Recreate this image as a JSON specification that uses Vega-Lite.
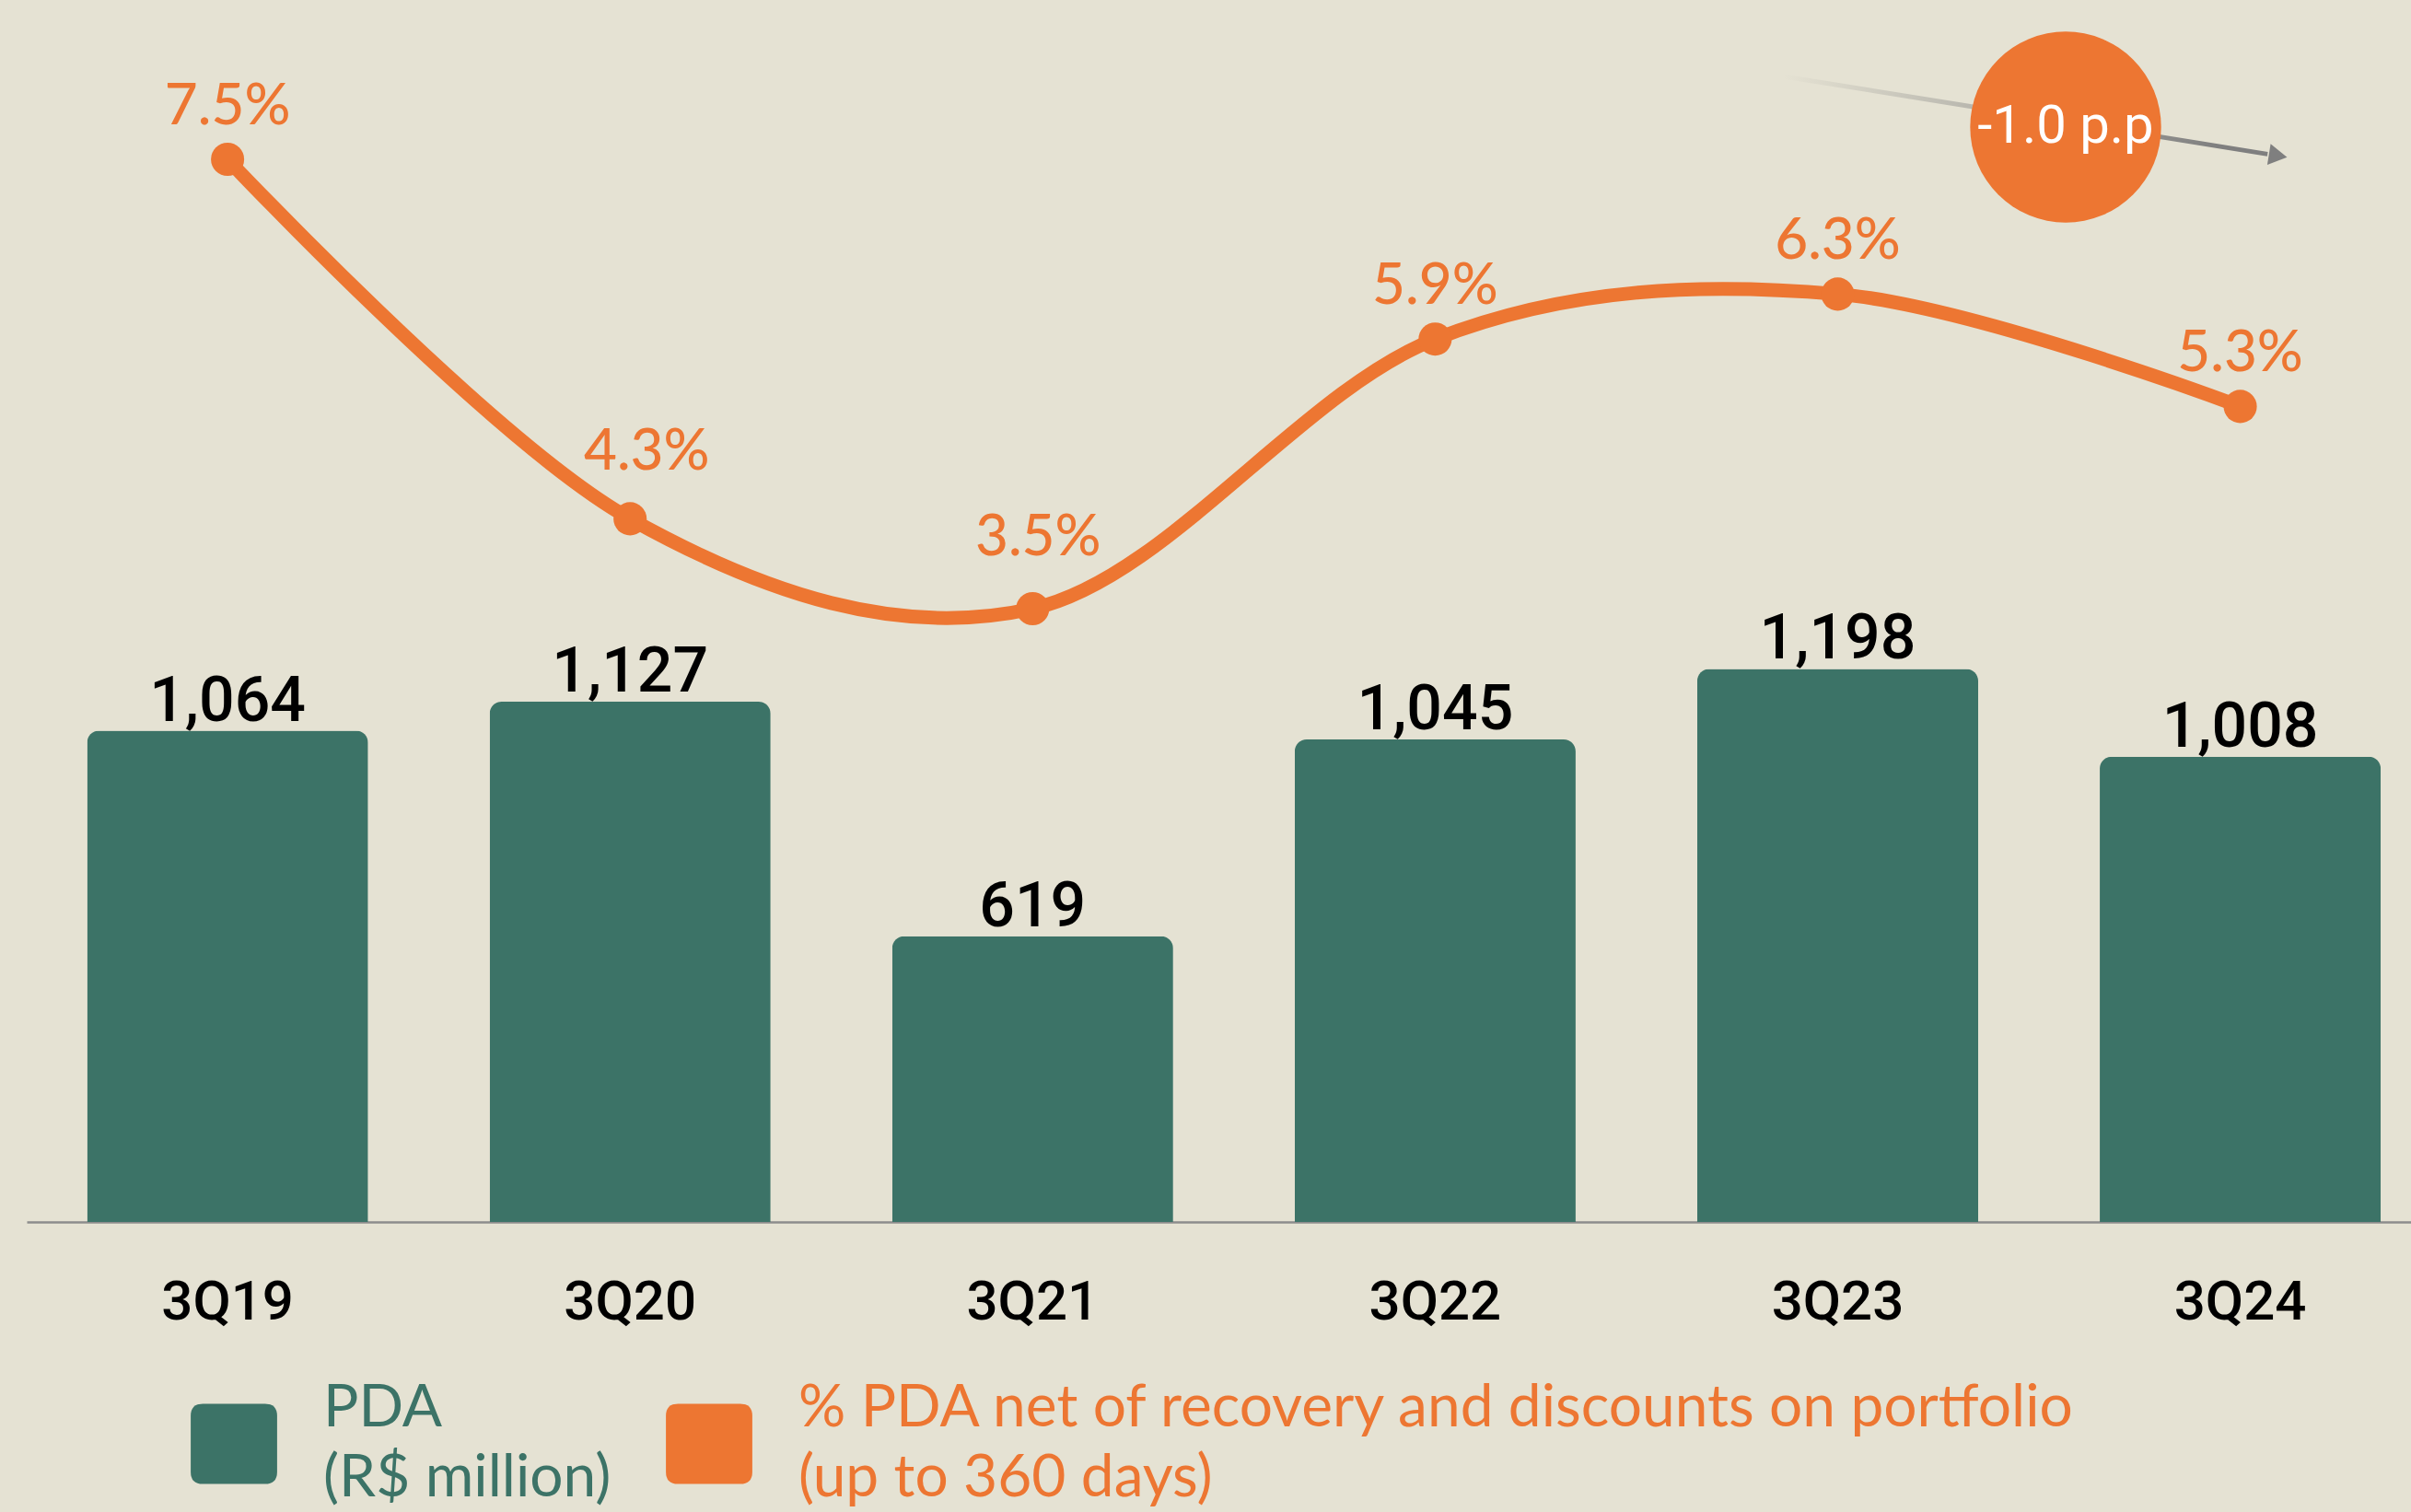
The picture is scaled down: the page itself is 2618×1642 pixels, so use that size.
{
  "$schema": "https://vega.github.io/schema/vega-lite/v6.json",
  "autosize": {"type": "none"},
  "width": 2589,
  "height": 1327,
  "padding": {"left": 29, "top": 0, "right": 0, "bottom": 315},
  "background": "#E5E2D3",
  "config": {"view": {"stroke": null}, "font": "Lato"},
  "datasets": {
    "pda": [
      {"quarter": "3Q19", "pda": 1064, "pct": 0.075, "series": "PDA (R$ million)"},
      {"quarter": "3Q20", "pda": 1127, "pct": 0.043, "series": "PDA (R$ million)"},
      {"quarter": "3Q21", "pda": 619, "pct": 0.035, "series": "PDA (R$ million)"},
      {"quarter": "3Q22", "pda": 1045, "pct": 0.059, "series": "PDA (R$ million)"},
      {"quarter": "3Q23", "pda": 1198, "pct": 0.063, "series": "PDA (R$ million)"},
      {"quarter": "3Q24", "pda": 1008, "pct": 0.053, "series": "PDA (R$ million)"}
    ],
    "ann": [{"x": 4.5665, "y": 0.07787, "label": "-1.0 p.p"}],
    "arrow": [{"x": 3.866, "y": 0.08238, "x2": 5.068, "y2": 0.07546}],
    "head": [{"x": 5.094, "y": 0.07531}]
  },
  "layer": [
    {
      "data": {"name": "pda"},
      "encoding": {
        "x": {
          "field": "quarter",
          "type": "nominal",
          "sort": null,
          "scale": {"paddingInner": 0.302, "paddingOuter": 0.1126, "align": 0.666},
          "axis": {
            "title": null,
            "labelAngle": 0,
            "labelFont": "Roboto",
            "labelFontSize": 60,
            "labelFontWeight": 500,
            "labelColor": "#000000",
            "labelBaseline": "top",
            "labelPadding": 58,
            "ticks": false,
            "tickSize": 0,
            "domainColor": "#8C8C8C",
            "domainWidth": 2.5,
            "grid": false
          }
        }
      },
      "layer": [
        {
          "layer": [
            {
              "mark": {"type": "bar", "cornerRadiusTopLeft": 13, "cornerRadiusTopRight": 13},
              "encoding": {
                "y": {"field": "pda", "type": "quantitative", "scale": {"domain": [0, 2647], "nice": false}, "axis": null},
                "color": {
                  "field": "series",
                  "type": "nominal",
                  "scale": {
                    "domain": ["PDA (R$ million)", "% PDA net of recovery and discounts on portfolio (up to 360 days)"],
                    "range": ["#3C7367", "#ED7632"]
                  },
                  "legend": {
                    "title": null,
                    "orient": "none",
                    "legendX": 178,
                    "legendY": 1521,
                    "direction": "horizontal",
                    "symbolType": "M-0.72,-0.93 L0.72,-0.93 Q1,-0.93 1,-0.65 L1,0.65 Q1,0.93 0.72,0.93 L-0.72,0.93 Q-1,0.93 -1,0.65 L-1,-0.65 Q-1,-0.93 -0.72,-0.93 Z",
                    "symbolSize": 8800,
                    "symbolStrokeWidth": 0,
                    "symbolOpacity": 1,
                    "labelFont": "Lato",
                    "labelFontSize": 64,
                    "labelOffset": 50,
                    "columnPadding": 59,
                    "labelLimit": 3000,
                    "labelBaseline": "middle",
                    "labelExpr": "[slice(datum.label, 0, indexof(datum.label, ' (')), slice(datum.label, indexof(datum.label, ' (') + 1)]",
                    "encode": {
                      "labels": {
                        "update": {
                          "fill": {"signal": "datum.value == 'PDA (R$ million)' ? '#3C7367' : '#ED7632'"},
                          "lineHeight": {"value": 76},
                          "dy": {"value": -38}
                        }
                      }
                    }
                  }
                }
              }
            },
            {
              "mark": {"type": "text", "font": "Roboto", "fontSize": 68, "fontWeight": 500, "color": "#000000", "baseline": "alphabetic", "dy": -11},
              "encoding": {
                "y": {"field": "pda", "type": "quantitative", "scale": {"domain": [0, 2647], "nice": false}, "axis": null},
                "text": {"field": "pda", "type": "quantitative", "format": ","}
              }
            }
          ]
        },
        {
          "layer": [
            {
              "mark": {"type": "line", "interpolate": "cardinal", "strokeWidth": 15, "color": "#ED7632"},
              "encoding": {
                "y": {"field": "pct", "type": "quantitative", "scale": {"domain": [-0.01959, 0.08918], "nice": false, "zero": false}, "axis": null}
              }
            },
            {
              "mark": {"type": "circle", "size": 1300, "opacity": 1, "color": "#ED7632"},
              "encoding": {
                "y": {"field": "pct", "type": "quantitative", "scale": {"domain": [-0.01959, 0.08918], "nice": false, "zero": false}, "axis": null}
              }
            },
            {
              "transform": [{"filter": "datum.quarter != '3Q20' && datum.quarter != '3Q21'"}],
              "mark": {"type": "text", "font": "Lato", "fontSize": 62, "fontWeight": 500, "color": "#ED7632", "baseline": "alphabetic", "dy": -38},
              "encoding": {
                "y": {"field": "pct", "type": "quantitative", "scale": {"domain": [-0.01959, 0.08918], "nice": false, "zero": false}, "axis": null},
                "text": {"field": "pct", "type": "quantitative", "format": ".1%"}
              }
            },
            {
              "transform": [{"filter": "datum.quarter == '3Q20'"}],
              "mark": {"type": "text", "font": "Lato", "fontSize": 62, "fontWeight": 500, "color": "#ED7632", "baseline": "alphabetic", "dy": -53, "dx": 18},
              "encoding": {
                "y": {"field": "pct", "type": "quantitative", "scale": {"domain": [-0.01959, 0.08918], "nice": false, "zero": false}, "axis": null},
                "text": {"field": "pct", "type": "quantitative", "format": ".1%"}
              }
            },
            {
              "transform": [{"filter": "datum.quarter == '3Q21'"}],
              "mark": {"type": "text", "font": "Lato", "fontSize": 62, "fontWeight": 500, "color": "#ED7632", "baseline": "alphabetic", "dy": -58, "dx": 6},
              "encoding": {
                "y": {"field": "pct", "type": "quantitative", "scale": {"domain": [-0.01959, 0.08918], "nice": false, "zero": false}, "axis": null},
                "text": {"field": "pct", "type": "quantitative", "format": ".1%"}
              }
            }
          ]
        }
      ],
      "resolve": {"scale": {"y": "independent"}}
    },
    {
      "encoding": {
        "x": {"field": "x", "type": "quantitative", "scale": {"domain": [-0.4987, 5.4244], "nice": false, "zero": false}, "axis": null},
        "y": {"field": "y", "type": "quantitative", "scale": {"domain": [-0.01959, 0.08918], "nice": false, "zero": false}, "axis": null}
      },
      "layer": [
        {
          "data": {"name": "arrow"},
          "mark": {
            "type": "rule",
            "strokeWidth": 5,
            "stroke": {
              "gradient": "linear",
              "x1": 0, "y1": 0, "x2": 1, "y2": 0,
              "stops": [
                {"offset": 0, "color": "#E5E2D3"},
                {"offset": 0.9, "color": "#7F7F7F"},
                {"offset": 1, "color": "#7F7F7F"}
              ]
            }
          },
          "encoding": {
            "x2": {"field": "x2"},
            "y2": {"field": "y2"}
          }
        },
        {
          "data": {"name": "head"},
          "mark": {"type": "point", "shape": "triangle-right", "filled": true, "size": 529, "angle": 9.1, "opacity": 1, "color": "#7F7F7F"}
        },
        {
          "data": {"name": "ann"},
          "mark": {"type": "circle", "size": 43005, "opacity": 1, "color": "#ED7632"}
        },
        {
          "data": {"name": "ann"},
          "mark": {"type": "text", "font": "Roboto", "fontSize": 58, "color": "#FFFFFF", "baseline": "middle", "align": "center"},
          "encoding": {"text": {"field": "label"}}
        }
      ]
    }
  ],
  "resolve": {"scale": {"x": "independent", "y": "independent"}}
}
